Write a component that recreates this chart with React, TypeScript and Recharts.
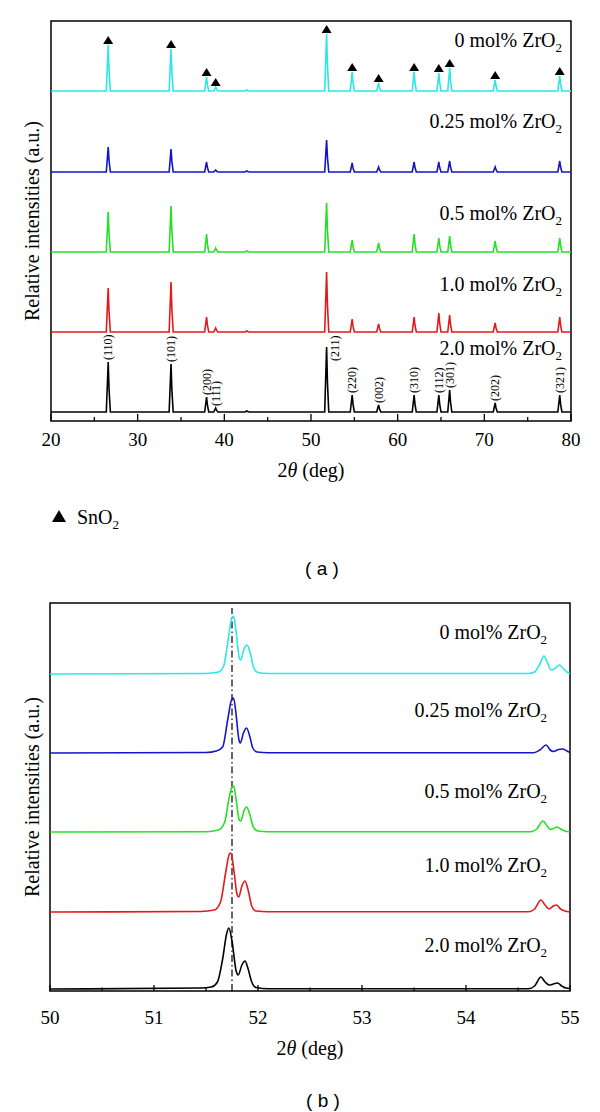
import React from "react";
import {
  ComposedChart,
  Line,
  Scatter,
  XAxis,
  YAxis,
  ReferenceArea,
  ReferenceLine,
  Label,
} from "recharts";

const SERIF = '"Liberation Serif", "Times New Roman", serif';
const SANS = '"Liberation Sans", Arial, sans-serif';

// series, top to bottom
const seriesNames = ["0", "0.25", "0.5", "1.0", "2.0"];
const seriesColors = ["#2ee6e6", "#1414c8", "#26e026", "#e41a1a", "#000000"];

// ---- panel (a): full pattern 20-80 deg ----
const peakPos = [26.6, 33.85, 37.95, 39.0, 42.6, 51.8, 54.75, 57.8, 61.9, 64.75, 66.0, 71.25, 78.7];
const hkl = ["(110)", "(101)", "(200)", "(111)", "", "(211)", "(220)", "(002)", "(310)", "(112)", "(301)", "(202)", "(321)"];
const cyanA = [46, 42, 14, 4, 1, 57, 19, 8, 19, 18, 23, 11, 15];
const blueA = [25, 23, 10, 2, 1, 32, 9, 5, 10, 10, 11, 5, 11];
const greenA = [40, 46, 18, 4, 1, 49, 12, 9, 18, 14, 16, 11, 14];
const redA = [44, 50, 15, 4, 1, 60, 13, 8, 15, 19, 17, 9, 15];
const blackA = [50, 48, 15, 4, 1, 65, 17, 7, 17, 17, 22, 9, 17];
const offsetsA = [330, 249, 169, 89, 9];
const labelYA = [374, 293, 201, 130, 66];
const ticksA = [20, 25, 30, 35, 40, 45, 50, 55, 60, 65, 70, 75, 80];

// ---- panel (b): zoom 50-55 deg ----
const cyanB = [
  [50, 0], [51.5, 0.5], [51.62, 2], [51.67, 8], [51.71, 32], [51.745, 55], [51.765, 58], [51.79, 42],
  [51.82, 16], [51.835, 14], [51.865, 25], [51.895, 29], [51.925, 21], [51.96, 6], [52.0, 1.5], [52.1, 0.5],
  [54.6, 0.5], [54.66, 2], [54.71, 10], [54.75, 18], [54.78, 12], [54.82, 4], [54.86, 6], [54.9, 9],
  [54.94, 5], [54.97, 2], [55, 0.5],
];
const blueB = [
  [50, 0], [51.5, 0.5], [51.6, 2], [51.66, 6], [51.71, 34], [51.745, 53], [51.765, 55], [51.79, 38],
  [51.815, 14], [51.83, 10], [51.86, 20], [51.89, 25], [51.92, 17], [51.95, 5], [51.99, 1], [52.1, 0.3],
  [54.65, 0.3], [54.71, 3], [54.77, 8], [54.81, 3], [54.84, 1.5], [54.89, 3.5], [54.93, 4], [54.97, 2], [55, 0.5],
];
const greenB = [
  [50, 0], [51.5, 0.3], [51.62, 2], [51.68, 10], [51.72, 33], [51.75, 45], [51.765, 46], [51.79, 32],
  [51.82, 12], [51.835, 11], [51.865, 21], [51.89, 25], [51.92, 18], [51.955, 5], [52.0, 1], [52.1, 0.3],
  [54.62, 0.3], [54.68, 3], [54.74, 11], [54.78, 6], [54.81, 2.5], [54.84, 3.5], [54.87, 5], [54.91, 3],
  [54.95, 1], [55, 0],
];
const redB = [
  [50, 0], [51.45, 0.5], [51.58, 2], [51.64, 10], [51.69, 40], [51.725, 58], [51.74, 59], [51.77, 40],
  [51.8, 17], [51.815, 15], [51.845, 26], [51.875, 31], [51.905, 22], [51.94, 6], [51.98, 1], [52.1, 0.3],
  [54.6, 0.3], [54.66, 3], [54.72, 12], [54.76, 7], [54.8, 3], [54.84, 6], [54.87, 7], [54.91, 3],
  [54.95, 1], [55, 0],
];
const blackB = [
  [50, 0], [51.45, 1], [51.55, 2], [51.61, 7], [51.66, 30], [51.7, 56], [51.72, 61], [51.75, 48],
  [51.79, 18], [51.81, 14], [51.845, 24], [51.875, 28], [51.905, 20], [51.94, 7], [51.98, 1.5], [52.1, 0.3],
  [54.6, 0.3], [54.66, 3], [54.72, 12], [54.76, 7], [54.8, 4], [54.84, 5], [54.88, 6], [54.92, 3],
  [54.96, 1], [55, 0.5],
];
const offsetsB = [317, 238, 159, 79, 2];
const labelYB = [352, 274, 193, 119, 39];
const ticksB = [50, 50.5, 51, 51.5, 52, 52.5, 53, 53.5, 54, 54.5, 55];
const markB = 51.75;

type Pt = { x: number; y: number };

// narrow XRD reflections with a small K-alpha2 shoulder
function spikes(h: number[], off: number): Pt[] {
  const pts: Pt[] = [{ x: 20, y: off }];
  peakPos.forEach((p, i) => {
    pts.push(
      { x: p - 0.22, y: off },
      { x: p, y: off + h[i] },
      { x: p + 0.1, y: off + h[i] * 0.45 },
      { x: p + 0.25, y: off }
    );
  });
  pts.push({ x: 80, y: off });
  return pts;
}

const shifted = (pts: number[][], off: number): Pt[] => pts.map(([x, y]) => ({ x, y: y + off }));

const linesA = [cyanA, blueA, greenA, redA, blackA].map((h, i) => spikes(h, offsetsA[i]));
const linesB = [cyanB, blueB, greenB, redB, blackB].map((p, i) => shifted(p, offsetsB[i]));

const triangles = peakPos
  .map((p, i) => ({ x: p, y: offsetsA[0] + cyanA[i] }))
  .filter((_, i) => hkl[i] !== "");
const hklMarks = peakPos
  .map((p, i) => ({ x: p, y: offsetsA[4] + blackA[i], name: hkl[i] }))
  .filter((d) => d.name !== "");
const namesA = seriesNames.map((n, i) => ({ x: 78.96, y: labelYA[i], name: n }));
const namesB = seriesNames.map((n, i) => ({ x: 54.78, y: labelYB[i], name: n }));

const XTick = ({ x, y, payload, step, labelDy, major, minor }: any) => {
  const v = payload.value;
  const isMajor = Math.abs(v / step - Math.round(v / step)) < 1e-6;
  return (
    <g>
      <line x1={x} x2={x} y1={y} y2={y - (isMajor ? major : minor)} stroke="#000" strokeWidth={1.3} />
      {isMajor && (
        <text
          x={x}
          y={y + labelDy}
          textAnchor="middle"
          dominantBaseline="central"
          fontSize={19}
          fontFamily={SERIF}
          style={{ fontFamily: SERIF }}
          fill="#000"
        >
          {v}
        </text>
      )}
    </g>
  );
};

const xLabel = (dy: number) => (p: any) => {
  const vb = p.viewBox;
  return (
    <text x={vb.x + vb.width / 2} y={vb.y + dy} textAnchor="middle" dominantBaseline="central" fontSize={20} fontFamily={SERIF} fill="#000">
      2<tspan fontStyle="italic">θ</tspan> (deg)
    </text>
  );
};

const Triangle = ({ cx, cy }: any) => (
  <polygon points={`${cx - 5},${cy - 1} ${cx + 5},${cy - 1} ${cx},${cy - 9}`} fill="#000" />
);

const HklText = ({ cx, cy, payload }: any) => {
  const shift = payload.name === "(211)" ? { dx: 8, dy: 16 } : { dx: 0, dy: 0 };
  const x = cx + shift.dx;
  const y = cy + shift.dy - 2;
  return (
    <text transform={`translate(${x},${y}) rotate(-90)`} x={0} y={4} fontSize={12} fontFamily={SERIF} fill="#000">
      {payload.name}
    </text>
  );
};

const SeriesName = ({ cx, cy, payload }: any) => (
  <text x={cx} y={cy} textAnchor="end" fontSize={20} fontFamily={SERIF} fill="#000">
    {payload.name} mol% ZrO<tspan fontSize={13} dy={5}>2</tspan>
  </text>
);

const YTitle = ({ cy }: { cy: number }) => (
  <text
    x={32}
    y={cy}
    transform={`rotate(-90 32 ${cy})`}
    textAnchor="middle"
    dominantBaseline="central"
    fontSize={20}
    fontFamily={SERIF}
    fill="#000"
  >
    Relative intensities (a.u.)
  </text>
);

export default function App() {
  return (
    <div style={{ position: "absolute", left: 0, top: 0, width: 600, height: 1112, background: "#fff" }}>
      <div style={{ position: "absolute", left: 0, top: 0 }}>
        <ComposedChart width={600} height={490} margin={{ top: 21, right: 29, bottom: 0, left: 51 }}>
          <XAxis
            type="number"
            dataKey="x"
            domain={[20, 80]}
            ticks={ticksA}
            interval={0}
            height={69}
            tickSize={0}
            tickMargin={0}
            axisLine={false}
            tickLine={false}
            allowDataOverflow
            tick={(p: any) => <XTick {...p} step={10} labelDy={18} major={7} minor={4} />}
          >
            <Label content={xLabel(49)} />
          </XAxis>
          <YAxis type="number" dataKey="y" domain={[0, 400]} hide allowDataOverflow />
          <ReferenceArea x1={20} x2={80} y1={0} y2={400} fill="none" stroke="#000" strokeWidth={1.5} />
          {linesA.map((d, i) => (
            <Line
              key={i}
              data={d}
              dataKey="y"
              type="linear"
              stroke={seriesColors[i]}
              strokeWidth={1.6}
              dot={false}
              isAnimationActive={false}
            />
          ))}
          <Scatter data={triangles} dataKey="y" shape={<Triangle />} isAnimationActive={false} />
          <Scatter data={hklMarks} dataKey="y" shape={<HklText />} isAnimationActive={false} />
          <Scatter data={namesA} dataKey="y" shape={<SeriesName />} isAnimationActive={false} />
        </ComposedChart>
      </div>

      <div style={{ position: "absolute", left: 0, top: 582 }}>
        <ComposedChart width={600} height={490} margin={{ top: 21, right: 30, bottom: 0, left: 50 }}>
          <XAxis
            type="number"
            dataKey="x"
            domain={[50, 55]}
            ticks={ticksB}
            interval={0}
            height={81}
            tickSize={0}
            tickMargin={0}
            axisLine={false}
            tickLine={false}
            allowDataOverflow
            tick={(p: any) => <XTick {...p} step={1} labelDy={26} major={6} minor={3.5} />}
          >
            <Label content={xLabel(57)} />
          </XAxis>
          <YAxis type="number" dataKey="y" domain={[0, 388]} hide allowDataOverflow />
          <ReferenceArea x1={50} x2={55} y1={0} y2={388} fill="none" stroke="#000" strokeWidth={1.5} />
          <ReferenceLine
            segment={[{ x: markB, y: 0 }, { x: markB, y: 383 }]}
            stroke="#000"
            strokeWidth={1.2}
            strokeDasharray="7 3 1.5 3"
          />
          {linesB.map((d, i) => (
            <Line
              key={i}
              data={d}
              dataKey="y"
              type="monotone"
              stroke={seriesColors[i]}
              strokeWidth={1.6}
              dot={false}
              isAnimationActive={false}
            />
          ))}
          <Scatter data={namesB} dataKey="y" shape={<SeriesName />} isAnimationActive={false} />
        </ComposedChart>
      </div>

      <svg width={600} height={1112} style={{ position: "absolute", left: 0, top: 0, pointerEvents: "none" }}>
        <YTitle cy={221} />
        <YTitle cy={797} />
        <polygon points="52,522 66,522 59,510" fill="#000" />
        <text x={77} y={524} fontSize={20} fontFamily={SERIF} fill="#000">
          SnO<tspan fontSize={13} dy={5}>2</tspan>
        </text>
        <text x={322} y={568} textAnchor="middle" dominantBaseline="central" fontSize={19} fontFamily={SANS} fill="#000">
          ( a )
        </text>
        <text x={323} y={1100} textAnchor="middle" dominantBaseline="central" fontSize={19} fontFamily={SANS} fill="#000">
          ( b )
        </text>
      </svg>
    </div>
  );
}
